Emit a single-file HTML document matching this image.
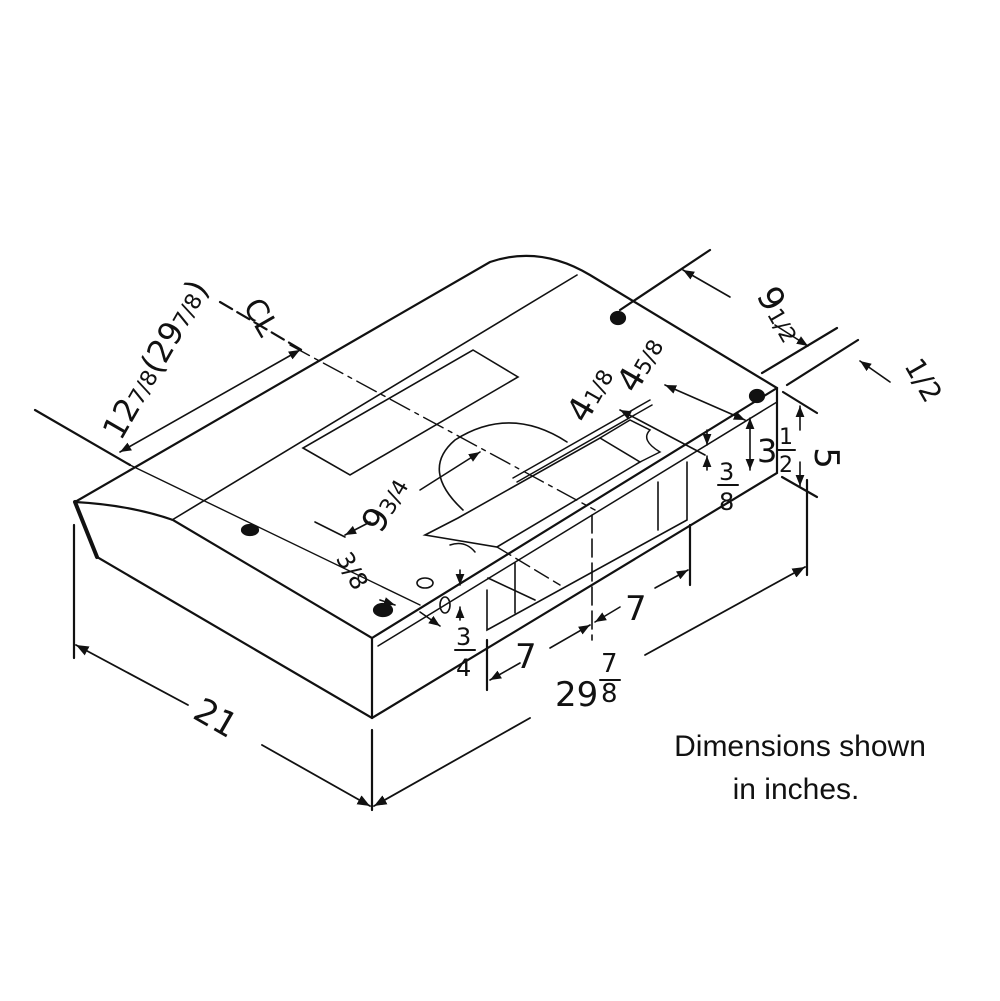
<!DOCTYPE html>
<html><head><meta charset="utf-8"><style>
html,body{margin:0;padding:0;background:#fff;}
svg{display:block}
text{font-family:"DejaVu Sans","Liberation Sans",sans-serif;fill:#111}
</style></head><body>
<svg width="1000" height="1001" viewBox="0 0 1000 1001" xmlns="http://www.w3.org/2000/svg">
<defs>
<marker id="a" viewBox="0 0 10 10" refX="10" refY="5" markerWidth="7" markerHeight="7" orient="auto-start-reverse"><path d="M0,1 L10,5 L0,9 z" fill="#111"/></marker>
</defs>
<g stroke="#111" stroke-width="2.2" fill="none" stroke-linecap="round">
<path d="M75,502 L490,262 Q540,245 590,275 L777,388 L777,473 L372,718 L97,557 Z"/>
<path d="M75,502 Q130,505 173,520 L372,638 L372,718"/>
<line x1="372" y1="638" x2="777" y2="388"/>
<line x1="378" y1="646" x2="777" y2="402" stroke-width="1.5"/>
<path d="M75,502 L97,557" stroke-width="4"/>
<line x1="172" y1="520" x2="577" y2="275" stroke-width="1.6"/>
<path d="M303,448 L350,475 L518,377 L473,350 Z" stroke-width="1.6"/>
<path d="M567,442 Q510,405 455,440 Q420,470 463,510" stroke-width="1.6"/>
<line x1="513" y1="478" x2="650" y2="400" stroke-width="1.5"/>
<line x1="517" y1="482" x2="652" y2="405" stroke-width="1.5"/>
<path d="M425,535 L458,518 L600,438 L640,462 L497,547 Z" stroke-width="1.6"/>
<path d="M600,438 L630,420 L650,430 Q640,440 660,452 L640,462" stroke-width="1.5"/>
<path d="M450,545 Q465,540 475,552" stroke-width="1.5"/>
<line x1="497" y1="547" x2="560" y2="585" stroke-width="1.4" stroke-dasharray="16,6"/>
<path d="M487,590 L487,630 L687,520 L687,462" stroke-width="1.6"/>
<line x1="515" y1="563" x2="515" y2="613" stroke-width="1.6"/>
<line x1="658" y1="482" x2="658" y2="530" stroke-width="1.6"/>
<line x1="488" y1="578" x2="535" y2="600" stroke-width="1.6"/>
<line x1="592" y1="515" x2="592" y2="640" stroke-width="1.6" stroke-dasharray="18,6"/>
<line x1="290" y1="345" x2="595" y2="510" stroke-width="1.4" stroke-dasharray="22,6,4,6"/>
<line x1="130" y1="465" x2="420" y2="605" stroke-width="1.4"/>
<ellipse cx="250" cy="530" rx="8" ry="5" fill="#111"/>
<ellipse cx="383" cy="610" rx="9" ry="6" fill="#111"/>
<ellipse cx="618" cy="318" rx="7" ry="6" fill="#111"/>
<ellipse cx="757" cy="396" rx="7" ry="6" fill="#111"/>
<ellipse cx="425" cy="583" rx="8" ry="5" stroke-width="1.6"/>
<ellipse cx="445" cy="605" rx="5" ry="8" stroke-width="1.6"/>
<line x1="74" y1="525" x2="74" y2="658"/>
<line x1="372" y1="730" x2="372" y2="810"/>
<line x1="76" y1="645" x2="188" y2="705" marker-start="url(#a)" stroke-width="1.8"/>
<line x1="262" y1="745" x2="370" y2="806" marker-end="url(#a)" stroke-width="1.8"/>
<line x1="807" y1="480" x2="807" y2="575"/>
<line x1="374" y1="806" x2="530" y2="718" marker-start="url(#a)" stroke-width="1.8"/>
<line x1="645" y1="655" x2="805" y2="567" marker-end="url(#a)" stroke-width="1.8"/>
<line x1="487" y1="640" x2="487" y2="690"/>
<line x1="690" y1="525" x2="690" y2="585"/>
<line x1="490" y1="680" x2="520" y2="663" marker-start="url(#a)" stroke-width="1.6"/>
<line x1="550" y1="648" x2="590" y2="625" marker-end="url(#a)" stroke-width="1.6"/>
<line x1="595" y1="622" x2="620" y2="607" marker-start="url(#a)" stroke-width="1.6"/>
<line x1="655" y1="588" x2="688" y2="570" marker-end="url(#a)" stroke-width="1.6"/>
<line x1="783" y1="392" x2="817" y2="413"/>
<line x1="782" y1="477" x2="817" y2="497"/>
<line x1="800" y1="430" x2="800" y2="406" marker-end="url(#a)" stroke-width="1.6"/>
<line x1="800" y1="462" x2="800" y2="486" marker-end="url(#a)" stroke-width="1.6"/>
<line x1="750" y1="418" x2="750" y2="470" marker-start="url(#a)" marker-end="url(#a)" stroke-width="1.6"/>
<line x1="620" y1="310" x2="710" y2="250"/>
<line x1="762" y1="373" x2="837" y2="328"/>
<line x1="787" y1="385" x2="858" y2="340"/>
<line x1="683" y1="270" x2="730" y2="297" marker-start="url(#a)" stroke-width="1.6"/>
<line x1="775" y1="325" x2="808" y2="346" marker-end="url(#a)" stroke-width="1.6"/>
<line x1="890" y1="382" x2="860" y2="361" marker-end="url(#a)" stroke-width="1.6"/>
<line x1="35" y1="410" x2="130" y2="465"/>
<line x1="220" y1="302" x2="305" y2="352" stroke-dasharray="14,6"/>
<line x1="120" y1="452" x2="300" y2="350" marker-start="url(#a)" marker-end="url(#a)" stroke-width="1.6"/>
<line x1="345" y1="535" x2="370" y2="522" marker-start="url(#a)" stroke-width="1.6"/>
<line x1="420" y1="490" x2="480" y2="452" marker-end="url(#a)" stroke-width="1.6"/>
<line x1="315" y1="522" x2="345" y2="537" stroke-width="1.6"/>
<line x1="620" y1="410" x2="705" y2="455" marker-start="url(#a)" stroke-width="1.6"/>
<line x1="665" y1="385" x2="745" y2="420" marker-start="url(#a)" marker-end="url(#a)" stroke-width="1.6"/>
<line x1="707" y1="430" x2="707" y2="445" marker-end="url(#a)" stroke-width="1.6"/>
<line x1="707" y1="470" x2="707" y2="456" marker-end="url(#a)" stroke-width="1.6"/>
<line x1="460" y1="570" x2="460" y2="585" marker-end="url(#a)" stroke-width="1.6"/>
<line x1="460" y1="620" x2="460" y2="607" marker-end="url(#a)" stroke-width="1.6"/>
<line x1="420" y1="612" x2="440" y2="626" marker-end="url(#a)" stroke-width="1.6"/>
<line x1="380" y1="600" x2="395" y2="605" marker-end="url(#a)" stroke-width="1.6"/>
<line x1="718" y1="485" x2="738" y2="485" stroke-width="2"/>
<line x1="455" y1="650" x2="475" y2="650" stroke-width="2"/>
<line x1="600" y1="680" x2="620" y2="680" stroke-width="2"/>
<line x1="778" y1="450" x2="795" y2="450" stroke-width="2"/>
</g>
<g font-size="34">
<text transform="translate(210,728) rotate(30)" text-anchor="middle">21</text>
<text x="555" y="706">29</text>
<text x="601" y="672" font-size="26">7</text>
<text x="601" y="702" font-size="26">8</text>
<text x="515" y="668">7</text>
<text x="625" y="620">7</text>
<text transform="translate(815,458) rotate(90)" text-anchor="middle">5</text>
<text x="757" y="462" font-size="32">3</text>
<text x="779" y="444" font-size="22">1</text>
<text x="779" y="472" font-size="22">2</text>
<text x="719" y="480" font-size="24">3</text>
<text x="719" y="510" font-size="24">8</text>
<text x="456" y="645" font-size="24">3</text>
<text x="456" y="676" font-size="24">4</text>
<text transform="translate(395,510) rotate(-60)" text-anchor="middle">9<tspan font-size="22">3/4</tspan></text>
<text transform="translate(345,575) rotate(60)" text-anchor="middle" font-size="24">3/8</text>
<text transform="translate(600,400) rotate(-60)" text-anchor="middle">4<tspan font-size="22">1/8</tspan></text>
<text transform="translate(650,370) rotate(-60)" text-anchor="middle">4<tspan font-size="22">5/8</tspan></text>
<text transform="translate(770,320) rotate(60)" text-anchor="middle">9<tspan font-size="22">1/2</tspan></text>
<text transform="translate(915,385) rotate(60)" text-anchor="middle" font-size="28">1/2</text>
<text transform="translate(165,365) rotate(-60)" text-anchor="middle" font-size="32">12<tspan font-size="22">7/8</tspan>(29<tspan font-size="22">7/8</tspan>)</text>
<text transform="translate(252,322) rotate(60)" text-anchor="middle" font-size="30">CL</text>
</g>
<g font-size="30" fill="#222">
<text x="800" y="756" text-anchor="middle" style="font-family:'Liberation Sans',sans-serif">Dimensions shown</text>
<text x="796" y="799" text-anchor="middle" style="font-family:'Liberation Sans',sans-serif">in inches.</text>
</g>
</svg>
</body></html>
